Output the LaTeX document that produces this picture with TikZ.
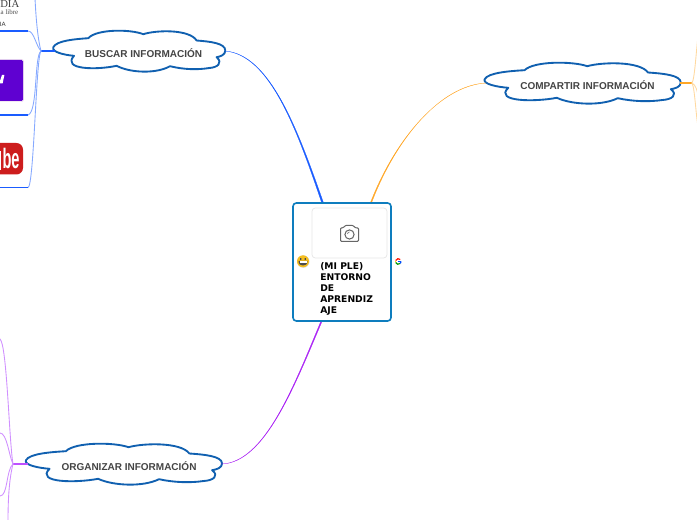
\documentclass[tikz,border=0pt]{standalone}
\usepackage{fontspec}
\setmainfont{Liberation Sans}
\newfontfamily\serifface{Liberation Serif}
\newfontfamily\centerface{DejaVu Sans}
\usetikzlibrary{calc}
\definecolor{cloudblue}{HTML}{1060B0}
\definecolor{boxblue}{HTML}{0E7DBE}
\definecolor{labelgrey}{HTML}{444444}
\definecolor{mainblue}{HTML}{1A5CFF}
\definecolor{lightblue}{HTML}{86A9FF}
\definecolor{mainorange}{HTML}{FFA726}
\definecolor{lightorange}{HTML}{FFD9A0}
\definecolor{mainpurple}{HTML}{AA22F5}
\definecolor{lightpurple}{HTML}{D090FF}
\definecolor{stubpurple}{HTML}{BE50FF}
\tikzset{
  x=.75pt,y=-.75pt,
  cloudlabel/.style={font=\bfseries\fontsize{7.5}{9}\selectfont,text=labelgrey,inner sep=0pt},
  cloudshape/.pic={
    \draw[cloudblue,line width=1.4pt,fill=white,line join=round]
      (-86,-3.8) .. controls (-83,-10.5) and (-63,-12) .. (-51,-12.8)
      .. controls (-43,-22) and (-9,-22) .. (4,-16.8)
      .. controls (17,-21) and (50,-22) .. (57.3,-10.5)
      .. controls (70,-9.5) and (86,-8) .. (86,-0.5)
      .. controls (86,4) and (81,5.5) .. (77.3,6.2)
      .. controls (84,12) and (78,16.5) .. (70,17)
      .. controls (58,19) and (44,18.5) .. (30.7,15.2)
      .. controls (17,23) and (-9,22) .. (-22.7,14.8)
      .. controls (-42,19) and (-78,19) .. (-65.3,4.8)
      .. controls (-75,4) and (-88,1) .. (-86,-3.8) -- cycle;
    \coordinate (-l) at (-84.5,0);
    \coordinate (-r) at (85.5,0);
  },
  twig/.style={line width=.65pt,line cap=round},
  stubline/.style={line width=1.3pt},
  leafline/.style={line width=.9pt},
}
\begin{document}
\begin{tikzpicture}
\clip (0,0) rectangle (697,520);
\fill[white] (0,0) rectangle (697,520);

% logos at the left edge
\node[font=\serifface\fontsize{8}{9}\selectfont,text=black!75,anchor=east,inner sep=0pt] (wa) at (19.5,4) {DIA};
\node[font=\serifface\fontsize{5.2}{6}\selectfont,text=black!70,anchor=east,inner sep=0pt] (wb) at (18.5,12.5) {ia libre};
\node[font=\fontsize{4.6}{5}\selectfont,text=black!80,anchor=east,inner sep=0pt] (wc) at (6,24) {IA};
\fill[rounded corners=1.5pt,fill=white,draw=violet!25,line width=.3pt] (-8,59.5) rectangle (23.5,101.5);
\fill[rounded corners=1pt,fill={rgb,255:red,95;green,1;blue,209}] (-8,60) rectangle (23,101);
\fill[white] (2,75) -- (4.4,75) -- (2.6,83.5) -- (0,83.5) -- (0,81) -- cycle;
\fill[rounded corners=5pt,fill={rgb,255:red,205;green,29;blue,29}] (-14,143) rectangle (23,174.5);
\node[font=\bfseries\fontsize{21}{22}\selectfont,text=white,xscale=.52,inner sep=0pt,anchor=center] (yt) at (11,158.5) {be};
\fill[white] (0,151) rectangle (.8,170);

% hub coordinates
\coordinate (bhub) at (41,51);
\coordinate (ohub) at (692,83);
\coordinate (phub) at (13,464);
\coordinate (bup) at (35,-2);
\coordinate (bwiki) at (28,31);
\coordinate (byah) at (28,115);
\coordinate (byt) at (28,187.5);
\coordinate (bw0) at (0,31);
\coordinate (by0) at (0,115);
\coordinate (byt0) at (0,187.5);
\coordinate (oup) at (699,28);
\coordinate (omid) at (699,100);
\coordinate (odown) at (699,132);
\coordinate (ptop) at (0,339);
\coordinate (pmid) at (0,433);
\coordinate (plow) at (0,496);
\coordinate (pbot) at (8,522);

% clouds
\pic (busc) at (139.3,51) {cloudshape};
\pic[xscale=1.14] (comp) at (582.7,83) {cloudshape};
\pic[xscale=1.14] (orga) at (124,464) {cloudshape};
\node[cloudlabel] (lbusc) at (143.5,53.5) {BUSCAR INFORMACIÓN};
\node[cloudlabel] (lcomp) at (587.5,85.5) {COMPARTIR INFORMACIÓN};
\node[cloudlabel] (lorga) at (129,466.5) {ORGANIZAR INFORMACIÓN};

% branches: blue
\draw[mainblue,stubline] (bhub) -- (busc-l);
\draw[lightblue,twig] (bhub) .. controls (38,40) and (36,20) .. (bup);
\draw[lightblue,twig] (bhub) .. controls (36,46) and (34,31) .. (bwiki);
\draw[mainblue,leafline] (bwiki) -- (bw0);
\draw[lightblue,twig] (bhub) .. controls (34,56) and (38,112) .. (byah);
\draw[mainblue,leafline] (byah) -- (by0);
\draw[lightblue,twig] (bhub) .. controls (36,56) and (34,187) .. (byt);
\draw[mainblue,leafline] (byt) -- (byt0);
% branches: orange
\draw[mainorange,stubline] (comp-r) -- (ohub);
\draw[lightorange,twig] (ohub) .. controls (695,78) and (696,50) .. (oup);
\draw[lightorange,twig] (ohub) .. controls (696,85) and (697,90) .. (omid);
\draw[lightorange,twig] (ohub) .. controls (695,88) and (696,120) .. (odown);
% branches: purple
\draw[stubpurple,stubline] (phub) -- (orga-l);
\draw[lightpurple,twig] (phub) .. controls (9,440) and (7,345) .. (ptop);
\draw[lightpurple,twig] (phub) .. controls (9,456) and (7,433) .. (pmid);
\draw[lightpurple,twig] (phub) .. controls (6,470) and (8,496) .. (plow);
\draw[lightpurple,twig] (phub) .. controls (9,480) and (8,500) .. (pbot);

% tapered main connectors
\coordinate (ctb) at (323,204);
\coordinate (cto) at (370.5,204);
\coordinate (ctp) at (322,320);
\draw[mainblue,fill=mainblue,line width=.2pt] (busc-r) .. controls (270,54) and (298,130) .. ($(ctb)+(.9,0)$) -- ($(ctb)+(-.9,0)$) .. controls (297,130) and (270,54.6) .. (busc-r) -- cycle;
\draw[mainorange,fill=mainorange,line width=.2pt] (comp-l) .. controls (440,85) and (395,140) .. ($(cto)+(.6,0)$) -- ($(cto)+(-.6,0)$) .. controls (394.5,140) and (440,85.5) .. (comp-l) -- cycle;
\draw[mainpurple,fill=mainpurple,line width=.2pt] (orga-r) .. controls (265,463) and (295,385) .. ($(ctp)+(.6,0)$) -- ($(ctp)+(-.6,0)$) .. controls (294.2,385) and (265,462.5) .. (orga-r) -- cycle;

% central box
\draw[boxblue,fill=white,line width=1.2pt,rounded corners=2.5pt] (293,203) rectangle (391,321);
\path (293,203) coordinate (c1) (391,321) coordinate (c2);
\node[inner sep=0pt,minimum size=0pt] (ctr) at ($(c1)!.5!(c2)$) {};
\draw[black!9,fill=white,line width=.6pt,rounded corners=2.5pt] (312,208) rectangle (387,258);
% camera icon
\draw[black!60,line width=.75pt,line join=round,rounded corners=.8pt] (340.5,227.8) -- (343.5,227.8) -- (345,225.5) -- (353.5,225.5) -- (355,227.8) -- (358.5,227.8) -- (358.5,241.5) -- (340.5,241.5) -- cycle;
\draw[black!60,line width=.75pt] (349.5,234.5) circle (4.6);
\draw[black!50,line width=.5pt] (347.5,234) arc (180:270:2);
% text
\node[anchor=north west,inner sep=0pt,align=left,font=\centerface\bfseries\fontsize{6.9}{8.25}\selectfont,text=black] (ctxt) at (320,262.5) {(MI PLE)\\ENTORNO\\DE\\APRENDIZ\\AJE};
% emoji
\fill[black!15] (303.3,261.6) circle (6.2);
\fill[fill={rgb,255:red,245;green,190;blue,30}] (303,261.3) circle (6);
\fill[black!70] (298.5,261) -- (307.5,261) .. controls (307.5,264.8) and (305,265.5) .. (303,265.5) .. controls (301,265.5) and (298.5,264.8) .. (298.5,261) -- cycle;
\fill[white] (299.5,261.2) rectangle (306.5,262.6);
\fill[black!70] (300.2,258.2) rectangle (301.4,259.8) (304.6,258.2) rectangle (305.8,259.8);
% Google mark
\begin{scope}[line width=.9pt]
\coordinate (gc) at (398.3,261.5);
\draw[red!85!orange] (gc) ++(200:2.8) arc (200:315:2.8);
\draw[yellow!85!orange] (gc) ++(160:2.8) arc (160:200:2.8);
\draw[green!60!black] (gc) ++(45:2.8) arc (45:160:2.8);
\draw[blue!70!cyan] (gc) ++(0:2.8) arc (0:45:2.8);
\draw[blue!70!cyan] (gc) -- ++(2.8,0);
\end{scope}
\end{tikzpicture}
\end{document}
